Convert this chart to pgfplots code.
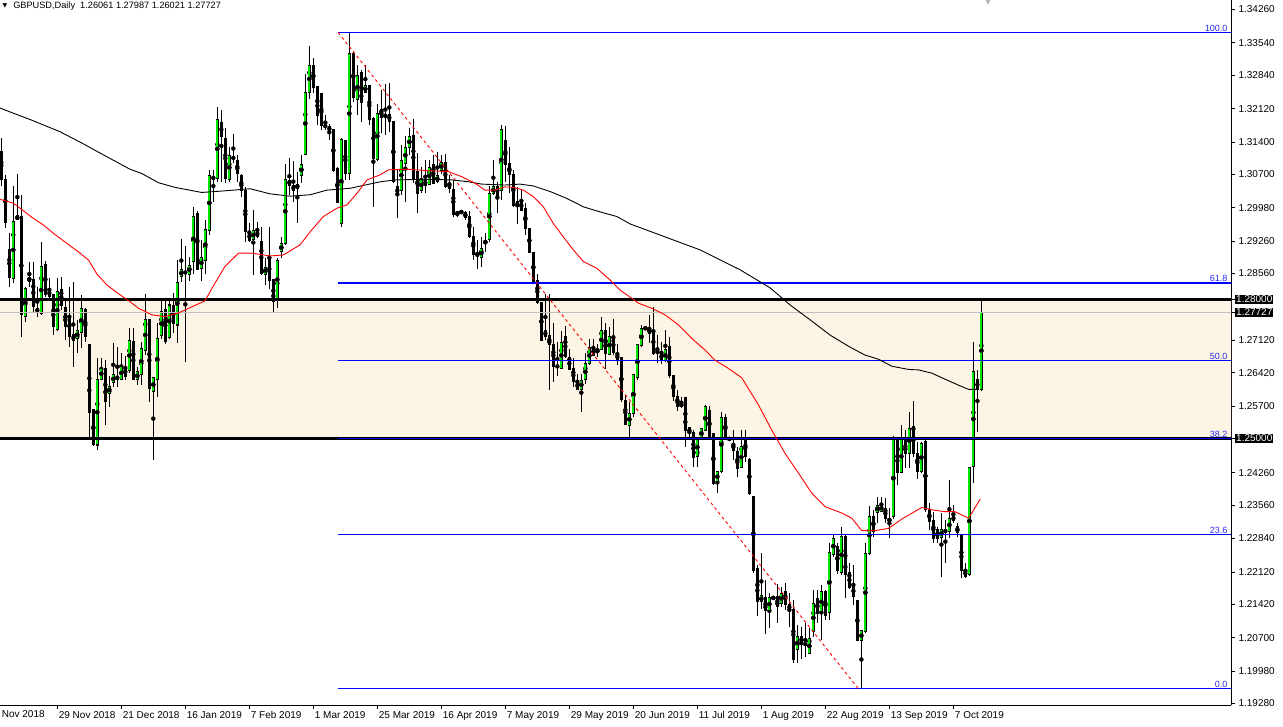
\documentclass[border=0pt]{standalone}
\usepackage{pgfplots}
\usepackage{pgfplotstable}
\pgfplotsset{compat=1.18}
\usepackage{fontspec}
\setmainfont{Liberation Sans}
\newfontfamily\dejavu{DejaVu Sans}
\definecolor{bullgreen}{RGB}{0,230,0}
\definecolor{zone}{RGB}{252,244,228}
\definecolor{fibblue}{RGB}{0,0,255}
\definecolor{fibtext}{RGB}{40,40,240}
\definecolor{bidgray}{RGB}{192,192,192}

% daily candles, j = bar index (4 px per bar)
\pgfplotstableread{
j o h l c
0 1.3119 1.3148 1.3044 1.3060
1 1.3060 1.3069 1.2955 1.2966
2 1.2908 1.2943 1.2828 1.2848
3 1.2846 1.3044 1.2835 1.2968
4 1.2972 1.3070 1.2972 1.2981
5 1.2980 1.3026 1.2720 1.2767
6 1.2763 1.2828 1.2752 1.2824
7 1.2839 1.2882 1.2828 1.2848
8 1.2844 1.2882 1.2774 1.2785
9 1.2781 1.2828 1.2763 1.2772
10 1.2770 1.2925 1.2767 1.2871
11 1.2875 1.2882 1.2806 1.2810
12 1.2822 1.2846 1.2796 1.2806
13 1.2810 1.2810 1.2724 1.2742
14 1.2736 1.2846 1.2731 1.2817
15 1.2822 1.2849 1.2778 1.2788
16 1.2783 1.2799 1.2713 1.2742
17 1.2765 1.2828 1.2698 1.2721
18 1.2724 1.2837 1.2655 1.2711
19 1.2716 1.2756 1.2684 1.2732
20 1.2729 1.2810 1.2695 1.2781
21 1.2779 1.2781 1.2709 1.2720
22 1.2704 1.2704 1.2504 1.2556
23 1.2562 1.2562 1.2483 1.2486
24 1.2486 1.2673 1.2476 1.2627
25 1.2628 1.2673 1.2627 1.2652
26 1.2652 1.2670 1.2530 1.2580
27 1.2598 1.2634 1.2569 1.2612
28 1.2620 1.2706 1.2612 1.2637
29 1.2635 1.2698 1.2612 1.2628
30 1.2628 1.2684 1.2627 1.2655
31 1.2654 1.2677 1.2627 1.2634
32 1.2647 1.2738 1.2641 1.2711
33 1.2709 1.2738 1.2626 1.2628
34 1.2627 1.2655 1.2615 1.2644
35 1.2639 1.2709 1.2615 1.2695
36 1.2691 1.2813 1.2680 1.2756
37 1.2756 1.2758 1.2579 1.2608
38 1.2601 1.2632 1.2454 1.2632
39 1.2627 1.2749 1.2589 1.2716
40 1.2723 1.2799 1.2714 1.2773
41 1.2779 1.2799 1.2704 1.2709
42 1.2718 1.2803 1.2714 1.2788
43 1.2788 1.2813 1.2727 1.2749
44 1.2745 1.2885 1.2706 1.2837
45 1.2849 1.2930 1.2838 1.2865
46 1.2860 1.2915 1.2664 1.2857
47 1.2855 1.2892 1.2841 1.2874
48 1.2882 1.3000 1.2856 1.2980
49 1.2985 1.2990 1.2864 1.2865
50 1.2867 1.2928 1.2841 1.2891
51 1.2885 1.2972 1.2856 1.2952
52 1.2950 1.3079 1.2939 1.3067
53 1.3065 1.3079 1.3011 1.3060
54 1.3061 1.3215 1.3054 1.3189
55 1.3183 1.3209 1.3054 1.3151
56 1.3148 1.3170 1.3052 1.3061
57 1.3060 1.3130 1.3054 1.3110
58 1.3107 1.3158 1.3094 1.3104
59 1.3101 1.3112 1.3054 1.3072
60 1.3067 1.3072 1.3022 1.3036
61 1.3036 1.3043 1.2925 1.2946
62 1.2944 1.2964 1.2925 1.2928
63 1.2930 1.2993 1.2853 1.2948
64 1.2948 1.2968 1.2932 1.2936
65 1.2925 1.2957 1.2853 1.2857
66 1.2855 1.2889 1.2831 1.2870
67 1.2891 1.2957 1.2823 1.2841
68 1.2843 1.2843 1.2772 1.2795
69 1.2801 1.2889 1.2781 1.2885
70 1.2903 1.2935 1.2889 1.2921
71 1.2921 1.3092 1.2918 1.3060
72 1.3058 1.3106 1.3026 1.3046
73 1.3047 1.3098 1.3011 1.3035
74 1.3039 1.3076 1.2965 1.3049
75 1.3067 1.3112 1.3051 1.3092
76 1.3113 1.3286 1.3112 1.3247
77 1.3247 1.3347 1.3232 1.3305
78 1.3305 1.3321 1.3245 1.3258
79 1.3259 1.3259 1.3177 1.3197
80 1.3244 1.3244 1.3166 1.3175
81 1.3175 1.3198 1.3166 1.3173
82 1.3173 1.3178 1.3144 1.3164
83 1.3166 1.3166 1.3076 1.3079
84 1.3082 1.3087 1.3008 1.3010
85 1.2965 1.3148 1.2957 1.3146
86 1.3144 1.3144 1.3058 1.3072
87 1.3072 1.3375 1.3058 1.3331
88 1.3331 1.3335 1.3227 1.3235
89 1.3232 1.3306 1.3198 1.3284
90 1.3290 1.3295 1.3183 1.3226
91 1.3248 1.3306 1.3245 1.3261
92 1.3261 1.3261 1.3177 1.3189
93 1.3191 1.3195 1.3000 1.3105
94 1.3103 1.3221 1.3098 1.3202
95 1.3210 1.3252 1.3159 1.3193
96 1.3193 1.3265 1.3155 1.3200
97 1.3200 1.3267 1.3162 1.3184
98 1.3185 1.3185 1.3051 1.3054
99 1.3045 1.3079 1.2975 1.3025
100 1.3036 1.3133 1.3025 1.3101
101 1.3094 1.3154 1.3011 1.3129
102 1.3129 1.3170 1.3112 1.3151
103 1.3155 1.3189 1.3051 1.3058
104 1.3076 1.3116 1.2986 1.3029
105 1.3036 1.3087 1.3029 1.3058
106 1.3058 1.3101 1.3029 1.3046
107 1.3049 1.3101 1.3047 1.3085
108 1.3092 1.3112 1.3049 1.3051
109 1.3054 1.3119 1.3051 1.3067
110 1.3078 1.3112 1.3072 1.3096
111 1.3096 1.3114 1.3040 1.3043
112 1.3051 1.3069 1.3029 1.3040
113 1.3038 1.3058 1.2979 1.2984
114 1.2988 1.2990 1.2979 1.2985
115 1.2990 1.2992 1.2986 1.2987
116 1.2988 1.2992 1.2972 1.2977
117 1.2979 1.2990 1.2932 1.2936
118 1.2936 1.2957 1.2885 1.2896
119 1.2901 1.2928 1.2865 1.2896
120 1.2891 1.2936 1.2871 1.2909
121 1.2920 1.2944 1.2903 1.2928
122 1.2930 1.3045 1.2925 1.3029
123 1.3029 1.3101 1.3025 1.3043
124 1.3045 1.3054 1.2986 1.3025
125 1.3036 1.3177 1.3015 1.3167
126 1.3144 1.3174 1.3054 1.3092
127 1.3094 1.3129 1.3029 1.3069
128 1.3070 1.3079 1.3000 1.3002
129 1.3011 1.3043 1.2964 1.3000
130 1.3013 1.3036 1.2990 1.2992
131 1.2997 1.3008 1.2939 1.2954
132 1.2954 1.2954 1.2900 1.2901
133 1.2902 1.2902 1.2836 1.2838
134 1.2841 1.2856 1.2791 1.2794
135 1.2794 1.2794 1.2711 1.2711
136 1.2733 1.2812 1.2712 1.2720
137 1.2723 1.2812 1.2605 1.2702
138 1.2703 1.2749 1.2623 1.2656
139 1.2656 1.2709 1.2634 1.2655
140 1.2651 1.2731 1.2649 1.2708
141 1.2720 1.2743 1.2673 1.2677
142 1.2675 1.2693 1.2648 1.2649
143 1.2651 1.2673 1.2612 1.2622
144 1.2622 1.2640 1.2605 1.2606
145 1.2606 1.2640 1.2558 1.2626
146 1.2627 1.2684 1.2618 1.2661
147 1.2661 1.2714 1.2659 1.2697
148 1.2695 1.2714 1.2677 1.2680
149 1.2685 1.2705 1.2677 1.2692
150 1.2692 1.2763 1.2691 1.2734
151 1.2733 1.2749 1.2651 1.2684
152 1.2682 1.2741 1.2680 1.2721
153 1.2718 1.2757 1.2680 1.2686
154 1.2684 1.2705 1.2659 1.2669
155 1.2675 1.2675 1.2579 1.2583
156 1.2582 1.2594 1.2529 1.2531
157 1.2529 1.2579 1.2503 1.2554
158 1.2554 1.2638 1.2547 1.2638
159 1.2631 1.2702 1.2627 1.2702
160 1.2700 1.2745 1.2698 1.2738
161 1.2739 1.2740 1.2736 1.2737
162 1.2727 1.2767 1.2706 1.2738
163 1.2733 1.2783 1.2680 1.2684
164 1.2690 1.2723 1.2662 1.2684
165 1.2685 1.2709 1.2661 1.2668
166 1.2668 1.2734 1.2666 1.2691
167 1.2698 1.2720 1.2630 1.2635
168 1.2637 1.2637 1.2582 1.2590
169 1.2590 1.2605 1.2560 1.2569
170 1.2569 1.2590 1.2565 1.2576
171 1.2588 1.2590 1.2481 1.2518
172 1.2523 1.2525 1.2503 1.2512
173 1.2514 1.2518 1.2439 1.2460
174 1.2462 1.2500 1.2439 1.2500
175 1.2500 1.2522 1.2498 1.2522
176 1.2518 1.2572 1.2517 1.2569
177 1.2561 1.2570 1.2496 1.2500
178 1.2511 1.2511 1.2400 1.2403
179 1.2407 1.2428 1.2382 1.2428
180 1.2428 1.2558 1.2426 1.2546
181 1.2546 1.2554 1.2496 1.2498
182 1.2500 1.2501 1.2497 1.2498
183 1.2489 1.2518 1.2454 1.2475
184 1.2471 1.2482 1.2416 1.2436
185 1.2438 1.2518 1.2436 1.2482
186 1.2498 1.2518 1.2450 1.2462
187 1.2454 1.2457 1.2378 1.2382
188 1.2376 1.2376 1.2210 1.2215
189 1.2220 1.2227 1.2117 1.2148
190 1.2148 1.2252 1.2131 1.2160
191 1.2157 1.2195 1.2078 1.2128
192 1.2128 1.2166 1.2090 1.2157
193 1.2157 1.2158 1.2154 1.2155
194 1.2158 1.2187 1.2101 1.2138
195 1.2143 1.2180 1.2137 1.2166
196 1.2169 1.2189 1.2130 1.2141
197 1.2141 1.2166 1.2094 1.2131
198 1.2131 1.2151 1.2016 1.2022
199 1.2045 1.2097 1.2015 1.2073
200 1.2073 1.2093 1.2023 1.2058
201 1.2058 1.2101 1.2029 1.2054
202 1.2036 1.2090 1.2035 1.2068
203 1.2083 1.2174 1.2072 1.2143
204 1.2155 1.2174 1.2101 1.2123
205 1.2126 1.2184 1.2065 1.2169
206 1.2169 1.2173 1.2108 1.2119
207 1.2125 1.2274 1.2108 1.2253
208 1.2250 1.2291 1.2245 1.2285
209 1.2267 1.2274 1.2208 1.2215
210 1.2210 1.2309 1.2206 1.2288
211 1.2288 1.2291 1.2155 1.2206
212 1.2210 1.2232 1.2176 1.2179
213 1.2182 1.2227 1.2141 1.2160
214 1.2150 1.2150 1.2064 1.2064
215 1.2064 1.2085 1.1961 1.2085
216 1.2083 1.2274 1.2080 1.2252
217 1.2251 1.2354 1.2249 1.2331
218 1.2331 1.2345 1.2288 1.2299
219 1.2341 1.2374 1.2317 1.2356
220 1.2343 1.2374 1.2341 1.2356
221 1.2349 1.2371 1.2317 1.2328
222 1.2320 1.2349 1.2285 1.2328
223 1.2331 1.2505 1.2326 1.2497
224 1.2497 1.2504 1.2400 1.2426
225 1.2426 1.2529 1.2425 1.2497
226 1.2497 1.2518 1.2436 1.2468
227 1.2468 1.2558 1.2436 1.2522
228 1.2525 1.2581 1.2461 1.2468
229 1.2468 1.2493 1.2412 1.2428
230 1.2428 1.2493 1.2426 1.2490
231 1.2493 1.2496 1.2342 1.2346
232 1.2346 1.2360 1.2303 1.2321
233 1.2323 1.2342 1.2274 1.2285
234 1.2303 1.2310 1.2274 1.2285
235 1.2287 1.2340 1.2202 1.2303
236 1.2303 1.2324 1.2231 1.2297
237 1.2299 1.2410 1.2285 1.2328
238 1.2331 1.2356 1.2317 1.2324
239 1.2311 1.2317 1.2288 1.2297
240 1.2292 1.2292 1.2198 1.2216
241 1.2216 1.2231 1.2198 1.2202
242 1.2206 1.2439 1.2204 1.2438
243 1.2440 1.2709 1.2403 1.2644
244 1.2627 1.2648 1.2514 1.2605
245 1.26061 1.27987 1.26021 1.27727
}\candles

\begin{document}
\begin{tikzpicture}
\begin{axis}[
    scale only axis,
    width=1231pt, height=705pt,
    xmin=-0.325, xmax=307.4,
    ymin=1.19247, ymax=1.34464,
    axis x line*=bottom, axis y line*=right,
    axis line style={black, line width=1pt},
    tick align=outside, major tick length=4pt,
    tick style={black, line width=0.8pt},
    clip mode=individual,
    ticklabel style={font=\fontsize{10}{12}\selectfont, text=black},
    ytick={1.1928,1.1998,1.2070,1.2142,1.2212,1.2284,1.2356,1.2426,1.2570,1.2642,1.2712,1.2856,1.2926,1.2998,1.3070,1.3140,1.3212,1.3284,1.3354,1.3426},
    yticklabels={1.19280,1.19980,1.20700,1.21420,1.22120,1.22840,1.23560,1.24260,1.25700,1.26420,1.27120,1.28560,1.29260,1.29980,1.30700,1.31400,1.32120,1.32840,1.33540,1.34260},
    extra y ticks={1.28,1.27727,1.25},
    extra y tick labels={1.28000,1.27727,1.25000},
    extra y tick style={yticklabel style={fill=black, text=white, inner sep=1pt}},
    yticklabel style={anchor=west, xshift=0pt},
    xtick={14,30,46,62,78,94,110,126,142,158,174,190,206,222,238},
    xticklabels={29 Nov 2018,21 Dec 2018,16 Jan 2019,7 Feb 2019,1 Mar 2019,25 Mar 2019,16 Apr 2019,7 May 2019,29 May 2019,20 Jun 2019,11 Jul 2019,1 Aug 2019,22 Aug 2019,13 Sep 2019,7 Oct 2019},
    xticklabel style={anchor=north west, xshift=-2pt, yshift=1pt},
]
\coordinate (sw) at (rel axis cs:0,0);
\coordinate (ne) at (rel axis cs:1,1);

% support / resistance zone
\addplot[fill=zone, draw=none, forget plot] coordinates {(-1,1.25) (309,1.25) (309,1.28) (-1,1.28)} -- cycle;

% wicks
\addplot[only marks, mark=none, forget plot,
    error bars/.cd, y dir=both, y explicit, error mark=none,
    error bar style={black, line width=1pt}]
    table[x=j, y expr={(\thisrow{h}+\thisrow{l})/2}, y error expr={(\thisrow{h}-\thisrow{l})/2}] {\candles};
% bear bodies
\addplot[only marks, mark=none, forget plot,
    restrict expr to domain={\thisrow{o}-\thisrow{c}}{0:1},
    error bars/.cd, y dir=both, y explicit, error mark=none,
    error bar style={black, line width=3.4pt}]
    table[x=j, y expr={(\thisrow{o}+\thisrow{c})/2}, y error expr={abs(\thisrow{o}-\thisrow{c})/2+0.0001}] {\candles};
% bull bodies: outline then fill
\addplot[only marks, mark=none, forget plot,
    restrict expr to domain={\thisrow{c}-\thisrow{o}}{0.000001:1},
    error bars/.cd, y dir=both, y explicit, error mark=none,
    error bar style={black, line width=3.6pt}]
    table[x=j, y expr={(\thisrow{o}+\thisrow{c})/2}, y error expr={abs(\thisrow{c}-\thisrow{o})/2+0.00012}] {\candles};
\addplot[only marks, mark=none, forget plot,
    restrict expr to domain={\thisrow{c}-\thisrow{o}}{0.000001:1},
    error bars/.cd, y dir=both, y explicit, error mark=none,
    error bar style={bullgreen, line width=1.8pt}]
    table[x=j, y expr={(\thisrow{o}+\thisrow{c})/2}, y error expr={max(abs(\thisrow{c}-\thisrow{o})/2-0.0001,0)}] {\candles};

% horizontal levels
\addplot[black, line width=2.5pt, forget plot] coordinates {(-1,1.28) (309,1.28)};
\addplot[black, line width=2.5pt, forget plot] coordinates {(-1,1.25) (309,1.25)};
\addplot[bidgray, line width=1pt, forget plot] coordinates {(-1,1.27727) (309,1.27727)};

% fibonacci retracement (levels placed on pixel centres)
\addplot[draw=fibblue, line width=1pt, forget plot] coordinates {(84.2,1.33763) (309,1.33763)};
\addplot[draw=fibblue, line width=1.5pt, forget plot] coordinates {(84.2,1.28352) (309,1.28352)};
\addplot[draw=fibblue, line width=1pt, forget plot] coordinates {(84.2,1.26683) (309,1.26683)};
\addplot[draw=fibblue, line width=1pt, forget plot] coordinates {(84.2,1.24999) (309,1.24999)};
\addplot[draw=fibblue, line width=1pt, forget plot] coordinates {(84.2,1.22927) (309,1.22927)};
\addplot[draw=fibblue, line width=1pt, forget plot] coordinates {(84.2,1.19603) (309,1.19603)};
\addplot[red, line width=0.9pt, dash pattern=on 3pt off 3pt, forget plot] coordinates {(84.2,1.33763) (214.2,1.19603)};

% moving averages
\addplot[black, line width=0.9pt, forget plot] coordinates {
(-0.3,1.3213) (7.6,1.3187) (14.7,1.3162) (20.5,1.3136) (24.7,1.3116) (32.2,1.3081)
(35.1,1.3072) (39.3,1.3052) (43.4,1.3042) (50.1,1.3031) (55.1,1.3034) (62.2,1.3039)
(67.2,1.3028) (72.2,1.3023) (77.2,1.3026) (81.4,1.3036) (87.2,1.3040) (94.7,1.3054)
(98.4,1.3058) (103.4,1.3059) (108.4,1.3059) (112.7,1.3058) (116.8,1.3054) (120.1,1.3049)
(125.9,1.3047) (129.7,1.3049) (133,1.3045) (137.2,1.3033) (141.4,1.3018) (145.5,1.3000)
(149.7,1.2989) (153.9,1.2979) (157.2,1.2963) (164.7,1.2939) (174.7,1.2907) (184.7,1.2864)
(192.2,1.2825) (197.2,1.2788) (202.2,1.2756) (207.2,1.2723) (212.2,1.2697) (215.9,1.2680)
(219.3,1.2671) (222.6,1.2656) (226.8,1.2649) (229.3,1.2648) (232.6,1.2641) (235.9,1.2628)
(239.3,1.2615) (241.8,1.2606) (244.3,1.2606)};
\addplot[red, line width=0.9pt, forget plot] coordinates {
(-0.3,1.3016) (3,1.3008) (4.7,1.2997) (8,1.2975) (10.5,1.2961) (13,1.2943) (16.4,1.2921)
(19.7,1.2900) (21.8,1.2885) (23.9,1.2855) (26.4,1.2831) (29.7,1.2810) (32.2,1.2795)
(34.3,1.2781) (37.6,1.2767) (40.9,1.2763) (44.3,1.2771) (47.6,1.2784) (50.9,1.2797)
(53.4,1.2835) (55.9,1.2871) (59.3,1.2900) (62.7,1.2900) (67.2,1.2894) (70.5,1.2896)
(74.7,1.2918) (77.2,1.2946) (80.5,1.2979) (83.9,1.2997) (86.4,1.3004) (88.9,1.3029)
(91.4,1.3058) (94.7,1.3069) (96.8,1.3080) (101.8,1.3081) (106.8,1.3078) (111.8,1.3076)
(115.1,1.3065) (118.4,1.3051) (120.9,1.3036) (123.4,1.3036) (125.9,1.3043) (128,1.3042)
(130.5,1.3036) (133,1.3022) (135.5,1.3000) (138,1.2964) (140.5,1.2935) (143,1.2907)
(145.5,1.2882) (148.9,1.2867) (152.2,1.2842) (154.7,1.2820) (157.2,1.2805) (159.3,1.2792)
(162.6,1.2781) (165.9,1.2767) (169.3,1.2745) (172.6,1.2716) (175.9,1.2691) (178.4,1.2669)
(181.8,1.2651) (185.1,1.2631) (189.3,1.2572) (192.6,1.2518) (195.9,1.2468) (199.3,1.2425)
(202.6,1.2382) (205.9,1.2353) (210.1,1.2339) (212.6,1.2328) (215.1,1.2301) (218.4,1.2301)
(221.8,1.2306) (225.1,1.2326) (230.1,1.2351) (232.6,1.2346) (235.9,1.2342) (238.4,1.2342)
(241.8,1.2328) (242.6,1.2339) (244.7,1.2369)};

% fibonacci level labels
\begin{scope}[every node/.style={anchor=south east, inner sep=1pt, text=fibtext, font=\fontsize{9}{10}\selectfont}]
\node at (axis cs:306.8,1.33763) {100.0};
\node at (axis cs:306.8,1.28352) {61.8};
\node at (axis cs:306.8,1.26683) {50.0};
\node at (axis cs:306.8,1.24999) {38.2};
\node at (axis cs:306.8,1.22927) {23.6};
\node at (axis cs:306.8,1.19603) {0.0};
\end{scope}

% first (cut) date label and header
\node[anchor=north west, inner sep=2pt, font=\fontsize{10}{12}\selectfont] at ([xshift=-2pt, yshift=-3pt]axis cs:-2,1.19247) {7 Nov 2018};
\node[anchor=west, inner sep=0pt, font=\dejavu\fontsize{6}{7}\selectfont] at (rel axis cs:0.0020,0.9915) {▼};
\node[anchor=west, inner sep=0pt, font=\fontsize{9.2}{11}\selectfont] at (rel axis cs:0.0106,0.9915) {GBPUSD,Daily\ \ 1.26061 1.27987 1.26021 1.27727};
\node[anchor=north, inner sep=0pt, text=gray!60, font=\dejavu\fontsize{7}{8}\selectfont] at (rel axis cs:0.8026,1) {▼};
\end{axis}
\pgfresetboundingbox
\path[use as bounding box] ([yshift=-21pt]sw) rectangle ([xshift=52pt]ne);
\end{tikzpicture}
\end{document}
